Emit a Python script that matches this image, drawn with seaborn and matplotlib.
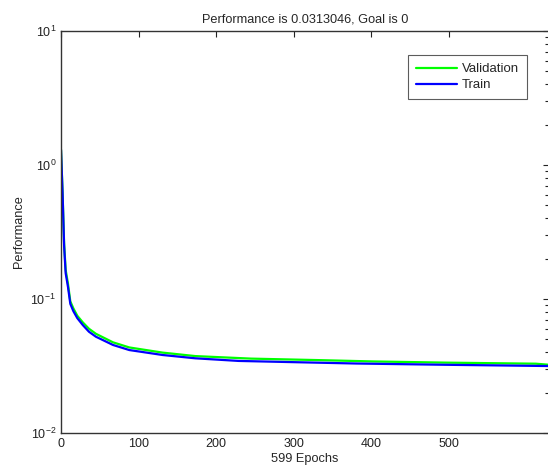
import pandas as pd
import seaborn as sns
import matplotlib
matplotlib.use("Agg")
import matplotlib.pyplot as plt
from matplotlib.ticker import LogLocator, NullFormatter, FixedLocator

# data
train_epochs = [0, 2, 4, 6, 9, 12, 16, 21, 28, 36, 45, 67, 88, 131, 173, 229, 298, 381, 494, 629]
train_perf = [1.3, 0.62, 0.25, 0.156, 0.123, 0.092, 0.081, 0.072, 0.064, 0.057, 0.0523, 0.0454,
              0.0416, 0.0382, 0.0361, 0.0345, 0.0338, 0.0330, 0.0323, 0.0316]

val_epochs = [0, 2, 4, 6, 9, 12, 16, 21, 28, 36, 45, 67, 88, 131, 173, 245, 331, 402, 497, 612, 629]
val_perf = [1.3, 0.63, 0.26, 0.165, 0.13, 0.096, 0.085, 0.075, 0.067, 0.060, 0.055, 0.0475,
            0.0435, 0.0398, 0.0375, 0.0359, 0.0350, 0.0342, 0.0335, 0.0329, 0.0323]

x_ticks = [0, 100, 200, 300, 400, 500]
y_ticks = [1e-2, 1e-1, 1e0, 1e1]
y_labels = ["10$^{-2}$", "10$^{-1}$", "10$^{0}$", "10$^{1}$"]

df = pd.concat([
    pd.DataFrame({"epoch": val_epochs, "perf": val_perf, "set": "Validation"}),
    pd.DataFrame({"epoch": train_epochs, "perf": train_perf, "set": "Train"}),
])

sns.set_style("white")
plt.rcParams["font.family"] = ["Liberation Sans", "DejaVu Sans"]
plt.rcParams["mathtext.fontset"] = "custom"
plt.rcParams["mathtext.rm"] = "Liberation Sans"
plt.rcParams["mathtext.it"] = "Liberation Sans"

fig = plt.figure(figsize=(5.48, 4.72), dpi=100)
ax = fig.add_axes([61 / 548, 39 / 472, 488 / 548, 402 / 472])

sns.lineplot(data=df, x="epoch", y="perf", hue="set", sort=False,
             palette={"Validation": "#00ff00", "Train": "#0000ff"},
             linewidth=1.6, ax=ax, estimator=None)

ax.set_yscale("log")
ax.set_xlim(0, 629)
ax.set_ylim(1e-2, 1e1)
ax.xaxis.set_major_locator(FixedLocator(x_ticks))
ax.set_xticklabels([str(t) for t in x_ticks])
ax.yaxis.set_major_locator(FixedLocator(y_ticks))
ax.set_yticklabels(y_labels)
ax.yaxis.set_minor_locator(LogLocator(base=10, subs=range(2, 10)))
ax.yaxis.set_minor_formatter(NullFormatter())

ax.tick_params(which="both", direction="in", top=True, right=True,
               labelsize=9, colors="#222222")
ax.tick_params(which="major", length=4, width=0.8)
ax.tick_params(which="minor", length=3, width=0.8)
for s in ax.spines.values():
    s.set_color("#333333")
    s.set_linewidth(1)

ax.set_title("Performance is 0.0313046, Goal is 0", fontsize=9.2, pad=6)
ax.set_xlabel("599 Epochs", fontsize=9.2, labelpad=2)
ax.set_ylabel("Performance", fontsize=9.2, labelpad=4)

handles, labels = ax.get_legend_handles_labels()
leg = ax.legend(handles, labels, loc="upper right", bbox_to_anchor=(0.955, 0.94),
                fontsize=9.5, frameon=True, fancybox=False, handlelength=3.1,
                borderpad=0.6, labelspacing=0.3, handletextpad=0.4,
                borderaxespad=0)
leg.get_frame().set_edgecolor("#333333")
leg.get_frame().set_linewidth(0.8)

fig.savefig("out.png", dpi=100)
